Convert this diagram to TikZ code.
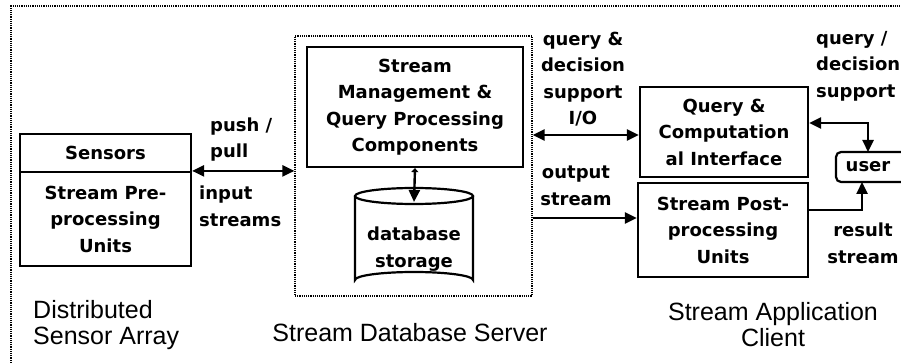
\documentclass[tikz,border=0pt]{standalone}
\usepackage{fontspec}
\setmainfont{Liberation Sans}
\newfontfamily\boxfont{DejaVu Sans}
\usetikzlibrary{arrows.meta}
\tikzset{
  bx/.style={draw, line width=2.2pt, inner sep=0pt, align=center,
    font=\boxfont\bfseries\fontsize{18}{26.5}\selectfont},
  lbl/.style={inner sep=0pt, font=\boxfont\bfseries\fontsize{18}{26.5}\selectfont},
  ttl/.style={inner sep=0pt, font=\fontsize{25}{26}\selectfont},
  tip/.tip={Triangle[length=12pt,width=11pt]},
  conn/.style={line width=2.4pt, arrows={-tip}},
  dconn/.style={line width=2.4pt, arrows={tip-tip}},
  dots/.style={line width=1.2pt, densely dotted}
}
\begin{document}
\begin{tikzpicture}[x=1pt,y=-1pt]
\clip (0,0) rectangle (901,363);
\fill[white] (0,0) rectangle (901,363);
% outer frame (only top and left visible)
\draw[dots, line width=1.6pt] (11,363) -- (11,6) -- (905,6);
% server dotted box
\node[draw, dots, minimum width=237pt, minimum height=260pt, inner sep=0pt] (server) at (413.5,166) {};
% sensors
\node[bx, minimum width=171pt, minimum height=38pt] (sens) at (105.5,153) {Sensors};
\node[bx, minimum width=171pt, minimum height=94pt] (pre) at (105.5,219) {Stream Pre-\\processing\\Units};
% management
\node[bx, minimum width=216pt, minimum height=120pt] (mgmt) at (415,107) {Stream\\Management \&\\Query Processing\\Components};
% database cylinder
\draw[line width=2.2pt] (355,196) -- (355,280) arc[start angle=180,end angle=360,x radius=59,y radius=8] -- (473,196);
\draw[line width=2.2pt] (414,196) ellipse[x radius=59,y radius=8];
\node[lbl, align=center] (db) at (414,249) {database\\storage};
\coordinate (dbtop) at (414,202);
% client boxes
\node[bx, minimum width=168pt, minimum height=90pt] (query) at (724,132) {Query \&\\Computation\\al Interface};
\node[bx, minimum width=170pt, minimum height=94pt] (post) at (723,230) {Stream Post-\\processing\\Units};
\draw[line width=2.2pt, rounded corners=5pt] (836,152) rectangle (930,182);
\node[lbl] (user) at (868,167) {user};
\coordinate (usern) at (868,152);
\coordinate (users) at (862,182);
% connectors
\draw[dconn] (pre.north east) -- (pre.north east -| server.west);
\draw[line width=2.4pt, arrows={Triangle[length=4pt,width=7pt]-tip}] (mgmt.south) -- (dbtop);
\coordinate (io) at (600,135);
\draw[dconn] (server.east |- io) -- (query.west |- io);
\coordinate (os) at (600,218);
\draw[conn] (server.east |- os) -- (post.west |- os);
\coordinate (qa) at (868,123);
\draw[dconn] (query.east |- qa) -- (qa) -- (usern);
\coordinate (ra) at (862,210);
\draw[conn] (post.east |- ra) -- (ra) -- (users);
% labels
\node[lbl, align=left, anchor=west] (pp) at (210,139.5) {push /\\pull};
\node[lbl, align=left, anchor=west] (is) at (199,206.5) {input\\streams};
\node[lbl, align=center] (qd) at (583,79) {query \&\\decision\\support\\I/O};
\node[lbl, align=center] (ost) at (576,186) {output\\stream};
\node[lbl, align=left, anchor=west] (qd2) at (816,66) {query /\\decision\\support};
\node[lbl, align=center] (rs) at (863,243.5) {result\\stream};
% titles
\node[ttl, align=left, anchor=west] (t1) at (33,325) {Distributed\\Sensor Array};
\node[ttl] (t2) at (410,333) {Stream Database Server};
\node[ttl, align=center] (t3) at (773,325) {Stream Application\\Client};
\end{tikzpicture}
\end{document}
